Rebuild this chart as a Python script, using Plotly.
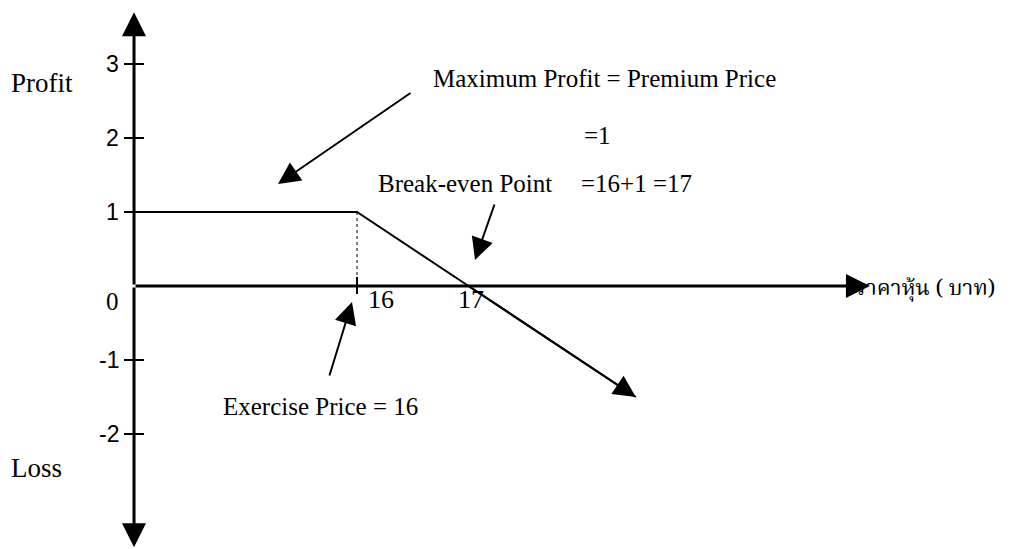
import plotly.graph_objects as go

# ---- data ----
price = [14, 16, 17, 18.5]          # stock price (baht)
profit = [1, 1, 0, -1.5]            # short call payoff
strike = 16
premium = 1
breakeven = 17
y_tick_vals = [3, 2, 1, 0, -1, -2]
y_tick_labels = ["3", "2", "1", "0", "-1", "-2"]
x_axis_start = 14
x_axis_end = 20.6
y_axis_top = 3.7
y_axis_bottom = -3.53

# pixel scale helpers (layout)
W, H = 1013, 549
X_RANGE = [12.798, 21.883]
Y_RANGE = [-3.554, 3.865]

SERIF = "Liberation Serif, Times New Roman, serif"
SANS = "Liberation Sans, Arial, sans-serif"
BLACK = "#000000"

fig = go.Figure()

# payoff line
fig.add_trace(go.Scatter(x=price, y=profit, mode="lines",
                         line=dict(color=BLACK, width=2), hoverinfo="skip",
                         showlegend=False))

shapes = []
# dotted line from kink to axis
shapes.append(dict(type="line", xref="x", yref="y", x0=strike, x1=strike,
                   y0=premium, y1=0, line=dict(color=BLACK, width=1, dash="dot")))
# y ticks (crossing the axis)
for v in y_tick_vals:
    if v == 0:
        continue
    shapes.append(dict(type="line", xref="x", yref="y", xsizemode="pixel",
                       xanchor=x_axis_start, x0=-10, x1=10, y0=v, y1=v,
                       line=dict(color=BLACK, width=2)))
# x tick at strike
shapes.append(dict(type="line", xref="x", yref="y", ysizemode="pixel",
                   yanchor=0, y0=-8, y1=9, x0=strike, x1=strike,
                   line=dict(color=BLACK, width=2)))

ann = []
# axes with arrowheads
for (tx, ty) in [(x_axis_start, y_axis_top), (x_axis_start, y_axis_bottom), (x_axis_end, 0)]:
    ann.append(dict(x=tx, y=ty, ax=x_axis_start, ay=0, axref="x", ayref="y",
                    xref="x", yref="y", text="", showarrow=True, arrowhead=2,
                    arrowwidth=3, arrowsize=1.6, arrowcolor=BLACK))
# payoff arrowhead
ann.append(dict(x=price[-1], y=profit[-1], ax=price[-2], ay=profit[-2], axref="x", ayref="y",
                xref="x", yref="y", text="", showarrow=True, arrowhead=2,
                arrowwidth=2, arrowsize=2.2, arrowcolor=BLACK))

# y tick labels
for v, lab in zip(y_tick_vals, y_tick_labels):
    ann.append(dict(x=x_axis_start, y=v, xref="x", yref="y", text=lab, showarrow=False,
                    xanchor="right", yanchor="middle", xshift=-13,
                    yshift=(-15 if v == 0 else 0),
                    font=dict(family=(SERIF if v == 0 else SANS), size=(25 if v == 0 else 23),
                              color=BLACK)))

# x labels
ann.append(dict(x=strike, y=0, xref="x", yref="y", text=str(strike), showarrow=False,
                xanchor="left", yanchor="middle", xshift=9, yshift=-13,
                font=dict(family=SERIF, size=26, color=BLACK)))
ann.append(dict(x=breakeven, y=0, xref="x", yref="y", text=str(breakeven), showarrow=False,
                xanchor="center", yanchor="middle", xshift=2, yshift=-13,
                font=dict(family=SERIF, size=26, color=BLACK)))

def pxx(p):
    return X_RANGE[0] + p / W * (X_RANGE[1] - X_RANGE[0])

def pxy(p):
    return Y_RANGE[1] - p / H * (Y_RANGE[1] - Y_RANGE[0])

# side labels
ann.append(dict(x=pxx(9), y=pxy(83), xref="x", yref="y", text="Profit", showarrow=False,
                xanchor="left", yanchor="middle", font=dict(family=SERIF, size=27, color=BLACK)))
ann.append(dict(x=pxx(9), y=pxy(468), xref="x", yref="y", text="Loss", showarrow=False,
                xanchor="left", yanchor="middle", font=dict(family=SERIF, size=27, color=BLACK)))
ann.append(dict(x=x_axis_end, y=0, xref="x", yref="y", text="ราคาหุ้น ( บาท)", showarrow=False,
                xanchor="left", yanchor="middle", xshift=-17, yshift=-3,
                font=dict(family="Noto Serif Thai, Noto Sans Thai, Loma, Garuda, Noto Sans, sans-serif",
                          size=22, color=BLACK)))

# explanatory texts
ann.append(dict(x=pxx(431), y=pxy(78), xref="x", yref="y",
                text="Maximum Profit = Premium Price", showarrow=False,
                xanchor="left", yanchor="middle", font=dict(family=SERIF, size=25, color=BLACK)))
ann.append(dict(x=pxx(582), y=pxy(135), xref="x", yref="y",
                text="=" + str(premium), showarrow=False,
                xanchor="left", yanchor="middle", font=dict(family=SERIF, size=25, color=BLACK)))
ann.append(dict(x=pxx(376), y=pxy(183), xref="x", yref="y",
                text="Break-even Point", showarrow=False,
                xanchor="left", yanchor="middle", font=dict(family=SERIF, size=25, color=BLACK)))
ann.append(dict(x=pxx(579), y=pxy(183), xref="x", yref="y",
                text=f"={strike}+{premium} ={breakeven}", showarrow=False,
                xanchor="left", yanchor="middle", font=dict(family=SERIF, size=25, color=BLACK)))
ann.append(dict(x=pxx(221), y=pxy(406), xref="x", yref="y",
                text=f"Exercise Price = {strike}", showarrow=False,
                xanchor="left", yanchor="middle", font=dict(family=SERIF, size=25, color=BLACK)))

# pointer arrows
ann.append(dict(x=pxx(278), y=pxy(184), xref="x", yref="y", text="", showarrow=True,
                ax=134, ay=-92, arrowhead=2, arrowwidth=2, arrowsize=2.2, arrowcolor=BLACK))
ann.append(dict(x=pxx(475), y=pxy(260), xref="x", yref="y", text="", showarrow=True,
                ax=20, ay=-57, arrowhead=2, arrowwidth=2, arrowsize=2.2, arrowcolor=BLACK))
ann.append(dict(x=pxx(352), y=pxy(302), xref="x", yref="y", text="", showarrow=True,
                ax=-23, ay=75, arrowhead=2, arrowwidth=2, arrowsize=2.2, arrowcolor=BLACK))

fig.update_layout(
    width=W, height=H,
    margin=dict(l=0, r=0, t=0, b=0),
    paper_bgcolor="white", plot_bgcolor="white",
    xaxis=dict(range=X_RANGE, visible=False, fixedrange=True),
    yaxis=dict(range=Y_RANGE, visible=False, fixedrange=True),
    shapes=shapes, annotations=ann, showlegend=False,
)

fig.write_html("out.html", config={"displayModeBar": False},
               post_script="document.body.style.margin='0';document.body.style.overflow='hidden';")
